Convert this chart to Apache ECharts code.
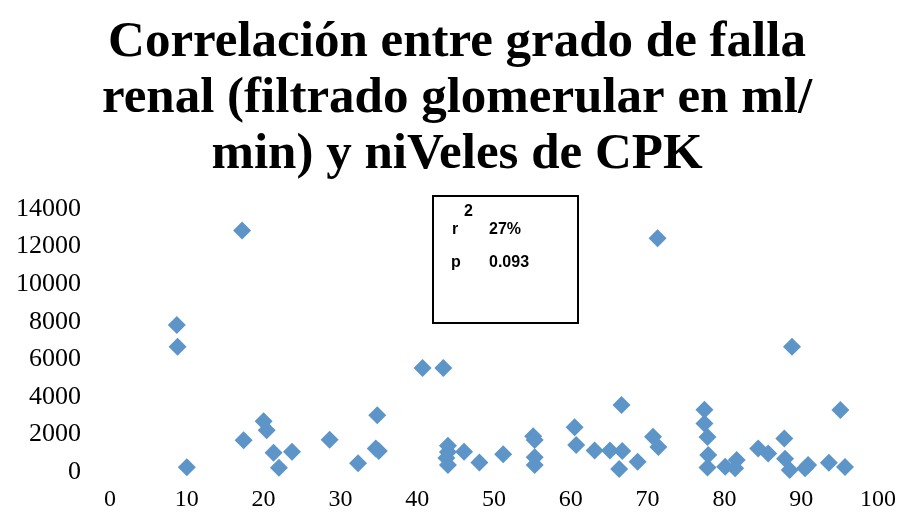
<!DOCTYPE html>
<html>
<head>
<meta charset="utf-8">
<script src="https://cdn.jsdelivr.net/npm/echarts@6/dist/echarts.min.js"></script>
<style>
  html, body { margin: 0; padding: 0; background: #fff; }
  #chart { width: 914px; height: 528px; }
</style>
</head>
<body>
<div id="chart"></div>
<script>
// filtrado glomerular (ml/min)
const filtrado = [
  8.7, 8.8, 10.0, 17.2, 17.4, 20.0, 20.4, 21.3, 22.0, 23.7,
  28.6, 32.3, 34.8, 34.6, 35.0, 40.7, 43.4, 44.0, 44.0, 43.8,
  44.0, 46.1, 48.1, 51.2, 55.1, 55.3, 55.3, 55.3, 60.5, 60.7,
  63.1, 65.1, 66.6, 66.7, 66.3, 68.7, 70.7, 71.4, 71.3, 77.4,
  77.4, 77.8, 77.9, 77.8, 80.1, 81.6, 81.4, 84.4, 85.7, 87.8,
  87.9, 88.5, 88.8, 90.5, 90.9, 93.6, 95.1, 95.7
]
// niveles de CPK
const cpk = [
  7820, 6670, 250, 12850, 1690, 2700, 2220, 1030, 220, 1080,
  1720, 460, 3020, 1250, 1120, 5530, 5530, 1400, 1070, 750,
  370, 1080, 510, 940, 1900, 1700, 780, 370, 2380, 1440,
  1150, 1150, 3570, 1120, 160, 550, 1880, 1330, 12440, 3320,
  2580, 1860, 900, 240, 280, 640, 200, 1250, 990, 1780,
  710, 100, 6670, 200, 370, 490, 3300, 270
]
const titleLines = ['Correlación entre grado de falla', 'renal (filtrado glomerular en ml/', 'min) y niVeles de CPK']
const statLabels = ['r', 'p']
const statValues = ['27%', '0.093']

const chart = echarts.init(document.getElementById('chart'))
const points = filtrado.map((x, i) => [x, cpk[i]])

const statFont = { fontFamily: 'Liberation Sans, Arial, sans-serif', fontWeight: 'bold', fontSize: 16, fill: '#000' }

chart.setOption({
  backgroundColor: '#fff',
  animation: false,
  title: {
    text: titleLines.join('\n'),
    left: 'center',
    top: 10,
    textStyle: {
      fontFamily: 'Liberation Serif, serif',
      fontWeight: 'bold',
      fontSize: 51,
      lineHeight: 56,
      color: '#000'
    }
  },
  grid: { left: 110, right: 36, top: 209, bottom: 56 },
  xAxis: {
    type: 'value',
    min: 0,
    max: 100,
    interval: 10,
    axisLine: { show: false },
    axisTick: { show: false },
    splitLine: { show: false },
    axisLabel: { color: '#000', fontFamily: 'Liberation Serif, serif', fontSize: 24, margin: 16 }
  },
  yAxis: {
    type: 'value',
    min: 0,
    max: 14000,
    interval: 2000,
    axisLine: { show: false },
    axisTick: { show: false },
    splitLine: { show: false },
    axisLabel: {
      color: '#000',
      fontFamily: 'Liberation Serif, serif',
      fontSize: 26,
      margin: 29,
      formatter: v => String(v)
    }
  },
  series: [{
    type: 'scatter',
    symbol: 'diamond',
    symbolSize: 18,
    itemStyle: { color: '#5e95c9', opacity: 1 },
    data: points
  }],
  graphic: [
    {
      type: 'rect',
      shape: { x: 433, y: 196, width: 145, height: 127 },
      style: { fill: '#fff', stroke: '#000', lineWidth: 2 }
    },
    { type: 'text', x: 452, y: 222, style: Object.assign({ text: statLabels[0] }, statFont) },
    { type: 'text', x: 464, y: 204, style: Object.assign({ text: '2' }, statFont) },
    { type: 'text', x: 489, y: 222, style: Object.assign({ text: statValues[0] }, statFont) },
    { type: 'text', x: 451, y: 255, style: Object.assign({ text: statLabels[1] }, statFont) },
    { type: 'text', x: 489, y: 255, style: Object.assign({ text: statValues[1] }, statFont) }
  ]
})
</script>
</body>
</html>
